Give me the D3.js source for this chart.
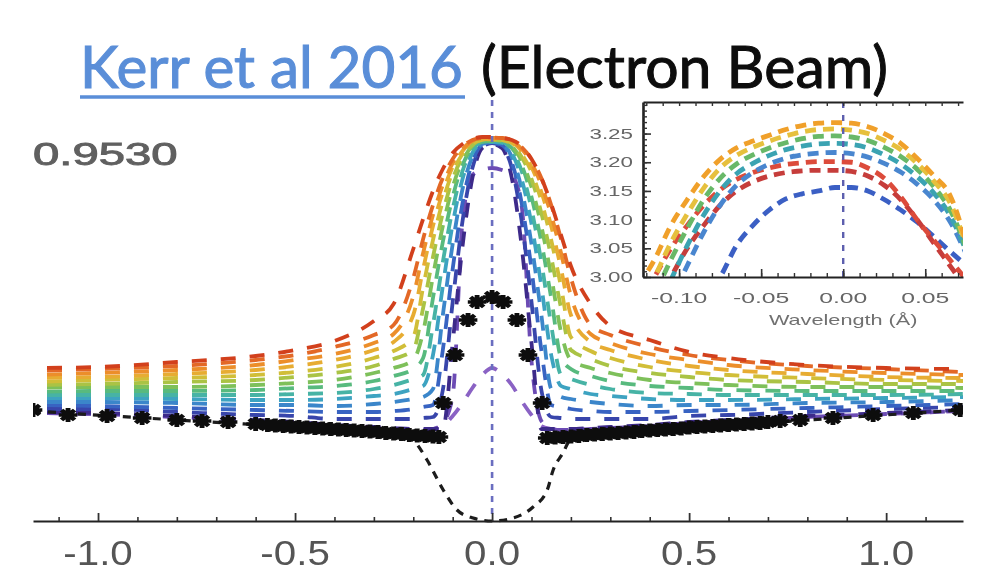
<!DOCTYPE html>
<html>
<head>
<meta charset="utf-8">
<script src="https://cdn.jsdelivr.net/npm/d3@7/dist/d3.min.js"></script>
<style>
  html, body { margin: 0; padding: 0; background: #fff; }
  svg { display: block; }
</style>
</head>
<body>
<svg id="chart" width="993" height="573"></svg>
<script>
// ---------------- data ----------------
const titleLink = "Kerr et al 2016";
const titleRest = "(Electron Beam)";
const timeLabel = "0.9530";

// wavelength from line centre (Å) at which the synthetic profiles are given
const wl = [-1.165, -1.0, -0.8, -0.6, -0.5, -0.4, -0.3, -0.25, -0.2, -0.175, -0.15, -0.125,
            -0.1, -0.075, -0.05, -0.025, 0, 0.025, 0.05, 0.075, 0.1,
            0.125, 0.15, 0.175, 0.2, 0.25, 0.3, 0.4, 0.5, 0.6, 0.8, 1.0, 1.195];

// early, narrow profiles (purple)
const pA = [1.08, 1.07, 1.04, 1.00, 0.98, 0.95, 0.93, 0.92, 0.91, 0.91, 0.92, 0.95, 1.05, 1.18, 1.33, 1.46, 1.53, 1.47, 1.36, 1.20, 1.06, 0.95, 0.92, 0.91, 0.91, 0.92, 0.93, 0.95, 0.98, 1.00, 1.04, 1.07, 1.10];
const pB = [1.08, 1.07, 1.04, 1.00, 0.98, 0.95, 0.93, 0.92, 0.91, 0.91, 0.92, 0.98, 1.25, 3.00, 3.46, 3.51, 3.53, 3.51, 3.46, 3.15, 1.60, 1.00, 0.92, 0.91, 0.91, 0.92, 0.93, 0.95, 0.98, 1.00, 1.04, 1.07, 1.10];
// later profiles, indigo -> red
const p00 = [1.09, 1.08, 1.05, 1.01, 0.99, 0.96, 0.94, 0.93, 0.92, 0.92, 0.92, 0.92, 1.78, 2.75, 3.43, 3.73, 3.77, 3.73, 3.43, 2.75, 1.78, 0.92, 0.92, 0.92, 0.92, 0.93, 0.94, 0.96, 0.99, 1.01, 1.05, 1.08, 1.11];
const p01 = [1.12, 1.12, 1.09, 1.06, 1.05, 1.02, 1.02, 1.02, 1.02, 1.03, 1.04, 1.31, 2.19, 3.00, 3.53, 3.74, 3.78, 3.74, 3.53, 3.00, 2.19, 1.31, 1.04, 1.03, 1.02, 1.02, 1.02, 1.02, 1.05, 1.06, 1.09, 1.12, 1.14];
const p02 = [1.16, 1.15, 1.13, 1.11, 1.10, 1.09, 1.09, 1.10, 1.12, 1.14, 1.16, 1.71, 2.52, 3.18, 3.59, 3.76, 3.78, 3.76, 3.59, 3.18, 2.52, 1.71, 1.16, 1.14, 1.12, 1.10, 1.09, 1.09, 1.10, 1.11, 1.13, 1.15, 1.17];
const p03 = [1.19, 1.19, 1.18, 1.16, 1.16, 1.15, 1.17, 1.19, 1.22, 1.24, 1.32, 2.06, 2.77, 3.32, 3.64, 3.77, 3.79, 3.77, 3.64, 3.32, 2.77, 2.06, 1.32, 1.24, 1.22, 1.19, 1.17, 1.15, 1.16, 1.16, 1.18, 1.19, 1.21];
const p04 = [1.23, 1.23, 1.22, 1.21, 1.21, 1.22, 1.25, 1.27, 1.32, 1.35, 1.66, 2.35, 2.97, 3.42, 3.68, 3.78, 3.79, 3.78, 3.68, 3.42, 2.97, 2.35, 1.66, 1.35, 1.32, 1.27, 1.25, 1.22, 1.21, 1.21, 1.22, 1.23, 1.24];
const p05 = [1.26, 1.26, 1.26, 1.26, 1.27, 1.28, 1.32, 1.36, 1.42, 1.46, 1.96, 2.59, 3.12, 3.50, 3.71, 3.79, 3.80, 3.79, 3.71, 3.50, 3.12, 2.59, 1.96, 1.46, 1.42, 1.36, 1.32, 1.28, 1.27, 1.26, 1.26, 1.26, 1.27];
const p06 = [1.29, 1.30, 1.30, 1.31, 1.33, 1.35, 1.40, 1.45, 1.52, 1.63, 2.23, 2.79, 3.24, 3.56, 3.73, 3.79, 3.80, 3.79, 3.73, 3.56, 3.24, 2.79, 2.23, 1.63, 1.52, 1.45, 1.40, 1.35, 1.33, 1.31, 1.30, 1.30, 1.30];
const p07 = [1.33, 1.34, 1.34, 1.36, 1.38, 1.41, 1.48, 1.53, 1.61, 1.89, 2.45, 2.95, 3.34, 3.60, 3.75, 3.80, 3.81, 3.80, 3.75, 3.60, 3.34, 2.95, 2.45, 1.89, 1.61, 1.53, 1.48, 1.41, 1.38, 1.36, 1.34, 1.34, 1.33];
const p08 = [1.36, 1.37, 1.39, 1.41, 1.44, 1.48, 1.55, 1.62, 1.71, 2.13, 2.64, 3.08, 3.42, 3.64, 3.76, 3.81, 3.81, 3.81, 3.76, 3.64, 3.42, 3.08, 2.64, 2.13, 1.71, 1.62, 1.55, 1.48, 1.44, 1.41, 1.39, 1.37, 1.37];
const p09 = [1.39, 1.41, 1.43, 1.46, 1.49, 1.54, 1.63, 1.70, 1.84, 2.34, 2.81, 3.20, 3.49, 3.67, 3.78, 3.81, 3.82, 3.81, 3.78, 3.67, 3.49, 3.20, 2.81, 2.34, 1.84, 1.70, 1.63, 1.54, 1.49, 1.46, 1.43, 1.41, 1.40];
const p10 = [1.43, 1.44, 1.47, 1.51, 1.55, 1.61, 1.71, 1.79, 2.06, 2.52, 2.95, 3.29, 3.54, 3.70, 3.79, 3.82, 3.82, 3.82, 3.79, 3.70, 3.54, 3.29, 2.95, 2.52, 2.06, 1.79, 1.71, 1.61, 1.55, 1.51, 1.47, 1.44, 1.43];
const p11 = [1.46, 1.48, 1.51, 1.56, 1.61, 1.67, 1.78, 1.87, 2.25, 2.68, 3.06, 3.36, 3.58, 3.72, 3.80, 3.83, 3.83, 3.83, 3.80, 3.72, 3.58, 3.36, 3.06, 2.68, 2.25, 1.87, 1.78, 1.67, 1.61, 1.56, 1.51, 1.48, 1.46];
const p12 = [1.50, 1.52, 1.55, 1.61, 1.66, 1.74, 1.86, 1.96, 2.43, 2.82, 3.16, 3.43, 3.62, 3.74, 3.81, 3.83, 3.835, 3.83, 3.81, 3.74, 3.62, 3.43, 3.16, 2.82, 2.43, 1.96, 1.86, 1.74, 1.66, 1.61, 1.55, 1.52, 1.49];
const p13 = [1.53, 1.54, 1.59, 1.65, 1.71, 1.80, 2.00, 2.17, 2.72, 3.02, 3.30, 3.52, 3.68, 3.77, 3.82, 3.84, 3.84, 3.83, 3.81, 3.75, 3.62, 3.43, 3.17, 2.86, 2.55, 2.17, 1.95, 1.81, 1.69, 1.63, 1.56, 1.53, 1.52];

// observed profile (asterisks)
const starWl = [-1.165, -1.076, -0.977, -0.888, -0.80, -0.736, -0.67, -0.60,
  -0.57, -0.55, -0.53, -0.51, -0.49, -0.47, -0.45, -0.43, -0.41, -0.39, -0.37, -0.35,
  -0.33, -0.31, -0.29, -0.27, -0.25, -0.23, -0.21, -0.19, -0.17, -0.15, -0.135,
  -0.124, -0.094, -0.061, -0.038, 0, 0.028, 0.063, 0.091, 0.127,
  0.14, 0.16, 0.18, 0.20, 0.22, 0.24, 0.26, 0.28, 0.30, 0.32, 0.34, 0.36, 0.38, 0.40,
  0.42, 0.44, 0.46, 0.48, 0.50, 0.52, 0.54, 0.56, 0.58, 0.60, 0.62, 0.64, 0.66, 0.68, 0.70,
  0.731, 0.782, 0.865, 0.967, 1.069, 1.188];
const starI = [1.11, 1.06, 1.05, 1.03, 1.01, 1.00, 0.99, 0.97,
  0.96, 0.955, 0.95, 0.945, 0.94, 0.935, 0.93, 0.925, 0.92, 0.915, 0.91, 0.905,
  0.90, 0.895, 0.89, 0.88, 0.875, 0.87, 0.86, 0.855, 0.85, 0.845, 0.84,
  1.18, 1.66, 2.01, 2.19, 2.24, 2.19, 2.01, 1.66, 1.18,
  0.83, 0.835, 0.84, 0.845, 0.85, 0.86, 0.865, 0.87, 0.875, 0.88, 0.885, 0.89, 0.90, 0.905,
  0.91, 0.915, 0.92, 0.925, 0.935, 0.94, 0.945, 0.95, 0.955, 0.96, 0.965, 0.97, 0.975, 0.98, 0.99,
  1.00, 1.01, 1.03, 1.06, 1.08, 1.11];

// pre-flare profile (black dashed)
const preWl = [-1.165, -0.8, -0.5, -0.3, -0.22, -0.2, -0.165, -0.124, -0.089, -0.048, 0, 0.053, 0.104, 0.14, 0.155, 0.18, 0.2, 0.25, 0.5, 0.8, 1.195];
const preI  = [1.10, 1.01, 0.94, 0.89, 0.86, 0.81, 0.61, 0.31, 0.11, 0.03, 0.0, 0.03, 0.14, 0.31, 0.51, 0.68, 0.82, 0.86, 0.93, 1.01, 1.11];

const xMajorTicks = [-1.0, -0.5, 0.0, 0.5, 1.0];

// inset: close-up of the line core
const insetWl = [-0.125, -0.115, -0.105, -0.095, -0.085, -0.075, -0.065, -0.055, -0.045, -0.035, -0.025,
                 -0.015, -0.005, 0.005, 0.015, 0.025, 0.035, 0.045, 0.055, 0.065, 0.075];
const q1 = [2.985, 3.03, 3.09, 3.135, 3.175, 3.205, 3.225, 3.237, 3.247, 3.257, 3.264, 3.268, 3.269, 3.268, 3.262, 3.25, 3.233, 3.207, 3.177, 3.143, 3.06];
const q2 = [2.955, 3.0, 3.06, 3.11, 3.155, 3.19, 3.212, 3.226, 3.237, 3.246, 3.253, 3.257, 3.258, 3.256, 3.25, 3.238, 3.222, 3.198, 3.168, 3.13, 3.055];
const q3 = [2.92, 2.97, 3.03, 3.085, 3.135, 3.172, 3.197, 3.213, 3.225, 3.234, 3.241, 3.245, 3.246, 3.244, 3.238, 3.226, 3.21, 3.188, 3.158, 3.118, 3.05];
const q4 = [2.88, 2.935, 2.995, 3.055, 3.108, 3.15, 3.18, 3.198, 3.212, 3.222, 3.228, 3.232, 3.233, 3.231, 3.225, 3.213, 3.197, 3.175, 3.147, 3.108, 3.045];
const q5 = [2.84, 2.9, 2.96, 3.02, 3.078, 3.125, 3.16, 3.182, 3.197, 3.207, 3.213, 3.216, 3.217, 3.215, 3.209, 3.198, 3.183, 3.162, 3.135, 3.097, 3.04];
const q6 = [2.95, 3.0, 3.05, 3.09, 3.125, 3.152, 3.17, 3.182, 3.19, 3.196, 3.199, 3.201, 3.201, 3.2, 3.19, 3.172, 3.14, 3.1, 3.065, 3.03, 2.995];
const q7 = [2.9, 2.95, 3.0, 3.05, 3.09, 3.125, 3.15, 3.166, 3.176, 3.182, 3.185, 3.186, 3.186, 3.184, 3.176, 3.16, 3.135, 3.1, 3.06, 3.02, 2.98];
const q8 = [2.7, 2.8, 2.88, 2.93, 2.965, 3.0, 3.055, 3.09, 3.117, 3.136, 3.145, 3.15, 3.156, 3.156, 3.15, 3.135, 3.117, 3.096, 3.071, 3.045, 3.02];
const insetYTicks = [3.00, 3.05, 3.10, 3.15, 3.20, 3.25];
const insetXTicks = [-0.10, -0.05, 0.00, 0.05];
const insetXLabel = "Wavelength (Å)";

// ---------------- styling ----------------
const rainbow = d3.interpolateRgbBasis(["#3d2a8a", "#3450bd", "#3a84cf", "#3fb0c2", "#4cb886",
                                        "#86c24e", "#cbc63a", "#efae30", "#ec7a2a", "#d2401f"]);
const laterProfiles = [p00, p01, p02, p03, p04, p05, p06, p07, p08, p09, p10, p11, p12, p13];
const earlyProfiles = [pA, pB];
const earlyColors = ["#8a62c4", "#6c4cb4"];
const insetProfiles = [q8, q7, q6, q5, q4, q3, q2, q1];
const insetColors = ["#3a5fc4", "#c63c3a", "#dc4b3a", "#4a86cf", "#3ba3b2", "#68b868", "#e6c03e", "#f0a02a"];
const figFont = "'Liberation Sans', Arial, Helvetica, sans-serif";
const titleFont = "Lato, 'Open Sans', sans-serif";

const svg = d3.select("#chart");
const defs = svg.append("defs");
defs.append("filter").attr("id", "soft")
  .attr("x", "-5%").attr("y", "-5%").attr("width", "110%").attr("height", "110%")
  .append("feGaussianBlur").attr("stdDeviation", 0.6);
defs.append("clipPath").attr("id", "mainClip")
  .append("rect").attr("x", 33).attr("y", 96).attr("width", 930).attr("height", 428);
defs.append("clipPath").attr("id", "insetClip")
  .append("rect").attr("x", 643).attr("y", 102).attr("width", 320).attr("height", 175);

// ---------------- title ----------------
const tA = svg.append("text").attr("x", 80).attr("y", 88)
  .attr("fill", "#5a8ed8").attr("stroke", "#5a8ed8").attr("stroke-width", 1.1)
  .style("font-family", titleFont).style("font-size", "56px")
  .text(titleLink);
const fs = 56 * 383 / tA.node().getComputedTextLength();
tA.style("font-size", fs + "px");
const tB = svg.append("text").attr("x", 481).attr("y", 88)
  .attr("fill", "#0d0d0d").attr("stroke", "#0d0d0d").attr("stroke-width", 1.0)
  .style("font-family", titleFont).style("font-size", fs + "px")
  .text(titleRest);
if (Math.abs(tB.node().getComputedTextLength() - 407) > 4) {
  tB.attr("textLength", 407).attr("lengthAdjust", "spacingAndGlyphs");
}
svg.append("line").attr("x1", 80).attr("x2", 465).attr("y1", 97).attr("y2", 97)
  .attr("stroke", "#5a8ed8").attr("stroke-width", 3.5);

// ---------------- main panel ----------------
const fig = svg.append("g").attr("filter", "url(#soft)");

const x = d3.scaleLinear().domain([-1.165, 1.195]).range([33, 963]);
const y = d3.scaleLinear().domain([0, 4.21]).range([521, 100]);

const plot = fig.append("g").attr("clip-path", "url(#mainClip)");
const line = d3.line().x((d, i) => x(wl[i])).y(d => y(d)).curve(d3.curveMonotoneX);

earlyProfiles.forEach((p, i) => {
  plot.append("path").attr("d", line(p)).attr("fill", "none")
    .attr("stroke", earlyColors[i]).attr("stroke-width", 3.8)
    .attr("stroke-dasharray", "15,14").attr("stroke-dashoffset", 15);
});
laterProfiles.forEach((p, i) => {
  plot.append("path").attr("d", line(p)).attr("fill", "none")
    .attr("stroke", rainbow(i / (laterProfiles.length - 1))).attr("stroke-width", 3.8)
    .attr("stroke-dasharray", "15,14").attr("stroke-dashoffset", 15);
});

// line centre
plot.append("line").attr("x1", x(0)).attr("x2", x(0)).attr("y1", y.range()[1]).attr("y2", y(0))
  .attr("stroke", "#6a6ec0").attr("stroke-width", 2.6).attr("stroke-dasharray", "6,6");

// pre-flare profile
const preLine = d3.line().x((d, i) => x(preWl[i])).y(d => y(d)).curve(d3.curveMonotoneX);
plot.append("path").attr("d", preLine(preI)).attr("fill", "none")
  .attr("stroke", "#1a1a1a").attr("stroke-width", 3.2).attr("stroke-dasharray", "8,7");

// observed profile, eight-armed asterisks
const star8 = {
  draw(ctx, size) {
    const r = Math.sqrt(size) / 2;
    for (let k = 0; k < 4; k++) {
      const a = k * Math.PI / 4;
      ctx.moveTo(r * Math.cos(a), r * Math.sin(a));
      ctx.lineTo(-r * Math.cos(a), -r * Math.sin(a));
    }
  }
};
const starPath = d3.symbol(star8, 190)();
plot.selectAll("path.star").data(starWl).join("path").attr("class", "star")
  .attr("d", starPath)
  .attr("transform", (d, i) => `translate(${x(d)},${y(starI[i])}) scale(1.35,1)`)
  .attr("fill", "none").attr("stroke", "#0e0e0e").attr("stroke-width", 3.6);

// x axis: major and minor ticks pointing inward
const minorTicks = d3.range(-11, 12).map(v => v / 10).filter(v => Math.abs(v * 2 - Math.round(v * 2)) > 1e-6);
fig.append("g").attr("transform", `translate(0,${y(0)})`)
  .call(d3.axisBottom(x).tickValues(minorTicks).tickSize(-4).tickSizeOuter(0).tickFormat(""))
  .call(g => g.selectAll("line").attr("stroke", "#333").attr("stroke-width", 1.6))
  .call(g => g.select(".domain").attr("stroke", "#222").attr("stroke-width", 2));
fig.append("g").attr("transform", `translate(0,${y(0)})`)
  .call(d3.axisBottom(x).tickValues(xMajorTicks).tickSize(-8).tickSizeOuter(0).tickFormat(""))
  .call(g => g.selectAll("line").attr("stroke", "#333").attr("stroke-width", 1.8))
  .call(g => g.select(".domain").remove());
fig.selectAll("text.xlab").data(xMajorTicks).join("text").attr("class", "xlab")
  .attr("transform", d => `translate(${x(d)},565) scale(1.12,1)`)
  .attr("text-anchor", "middle").attr("fill", "#555")
  .style("font-family", figFont).style("font-size", "36px")
  .text(d => d.toFixed(1));

// run time label
fig.append("text").attr("transform", "translate(33,165) scale(1.55,1)")
  .attr("fill", "#606060").attr("stroke", "#606060").attr("stroke-width", 0.9)
  .style("font-family", figFont).style("font-size", "30.5px")
  .text(timeLabel);

// ---------------- inset ----------------
const ix = d3.scaleLinear().domain([-0.122, 0.073]).range([643, 963]);
const iy = d3.scaleLinear().domain([3.0, 3.305]).range([277, 102]);
const inset = fig.append("g");
inset.append("rect").attr("x", 643).attr("y", 102).attr("width", 320).attr("height", 175).attr("fill", "#fff");
const iplot = inset.append("g").attr("clip-path", "url(#insetClip)");
const iline = d3.line().x((d, i) => ix(insetWl[i])).y(d => iy(d)).curve(d3.curveMonotoneX);
insetProfiles.forEach((p, i) => {
  iplot.append("path").attr("d", iline(p)).attr("fill", "none")
    .attr("stroke", insetColors[i]).attr("stroke-width", 4.8)
    .attr("stroke-dasharray", "11,7");
});
iplot.append("line").attr("x1", ix(0)).attr("x2", ix(0)).attr("y1", 102).attr("y2", 277)
  .attr("stroke", "#5d5fae").attr("stroke-width", 2.4).attr("stroke-dasharray", "6,7");

const iyMinor = d3.range(300, 331).map(v => v / 100);
const ixMinor = d3.range(-12, 8).map(v => v / 100);
inset.append("g").attr("transform", "translate(643,0)")
  .call(d3.axisLeft(iy).tickValues(iyMinor).tickSize(-4).tickSizeOuter(0).tickFormat(""))
  .call(g => g.selectAll("line").attr("stroke", "#333").attr("stroke-width", 1.4))
  .call(g => g.select(".domain").attr("stroke", "#222").attr("stroke-width", 2.6));
inset.append("g").attr("transform", "translate(643,0)")
  .call(d3.axisLeft(iy).tickValues(insetYTicks).tickSize(-8).tickSizeOuter(0).tickFormat(""))
  .call(g => g.selectAll("line").attr("stroke", "#333").attr("stroke-width", 1.6))
  .call(g => g.select(".domain").remove());
inset.append("g").attr("transform", "translate(0,277)")
  .call(d3.axisBottom(ix).tickValues(ixMinor).tickSize(-4).tickSizeOuter(0).tickFormat(""))
  .call(g => g.selectAll("line").attr("stroke", "#333").attr("stroke-width", 1.4))
  .call(g => g.select(".domain").attr("stroke", "#222").attr("stroke-width", 2));
inset.append("g").attr("transform", "translate(0,277)")
  .call(d3.axisBottom(ix).tickValues(insetXTicks).tickSize(-8).tickSizeOuter(0).tickFormat(""))
  .call(g => g.selectAll("line").attr("stroke", "#333").attr("stroke-width", 1.6))
  .call(g => g.select(".domain").remove());
inset.append("g").attr("transform", "translate(0,102)")
  .call(d3.axisTop(ix).tickValues(ixMinor).tickSize(-4).tickSizeOuter(0).tickFormat(""))
  .call(g => g.selectAll("line").attr("stroke", "#333").attr("stroke-width", 1.4))
  .call(g => g.select(".domain").attr("stroke", "#222").attr("stroke-width", 2));

inset.selectAll("text.iy").data(insetYTicks).join("text").attr("class", "iy")
  .attr("transform", d => `translate(633,${iy(d) + 5}) scale(1.6,1)`)
  .attr("text-anchor", "end").attr("fill", "#666")
  .style("font-family", figFont).style("font-size", "14px")
  .text(d => d.toFixed(2));
inset.selectAll("text.ix").data(insetXTicks).join("text").attr("class", "ix")
  .attr("transform", d => `translate(${ix(d)},303) scale(1.65,1)`)
  .attr("text-anchor", "middle").attr("fill", "#666")
  .style("font-family", figFont).style("font-size", "15px")
  .text(d => d.toFixed(2));
inset.append("text").attr("transform", `translate(${ix(0)},325) scale(1.55,1)`)
  .attr("text-anchor", "middle").attr("fill", "#707070")
  .style("font-family", figFont).style("font-size", "14px")
  .text(insetXLabel);
</script>
</body>
</html>
